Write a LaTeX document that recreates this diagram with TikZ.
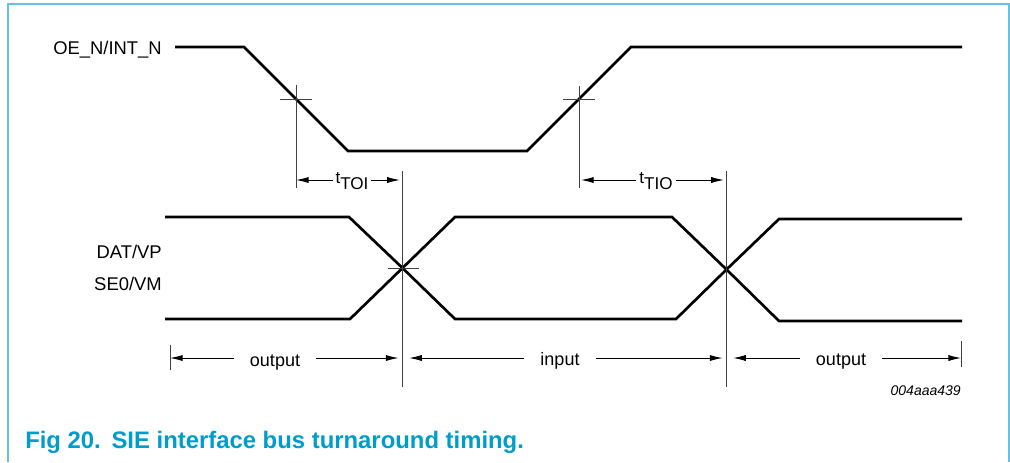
\documentclass[tikz,border=0pt]{standalone}
\usepackage{fontspec}
\setmainfont{Liberation Sans}
\usetikzlibrary{arrows.meta}
\definecolor{capblue}{RGB}{0,157,204}
\definecolor{framecyan}{RGB}{100,195,225}

\begin{document}
\begin{tikzpicture}
  [x=0.75pt,y=-0.75pt,
  wave/.style={line width=2pt},
  guide/.style={line width=0.7pt,black!75},
  dimline/.style={line width=0.7pt,-{Latex[length=9.5pt,width=4.6pt]}},
  sig/.style={font=\fontsize{13.8}{16}\selectfont,inner sep=0pt,anchor=base east},
  dimtext/.style={font=\fontsize{13.5}{16}\selectfont,inner xsep=12pt,inner ysep=0pt,anchor=base},
  ttext/.style={font=\fontsize{12.8}{15}\selectfont,inner xsep=2pt,inner ysep=0pt,anchor=base}]
  \useasboundingbox (0,0) rectangle (1010,462);
  \draw[framecyan,line width=1.5pt] (8,462) -- (8,4) -- (1008.5,4) -- (1008.5,462);

  % signal names
  \node[sig] (oe) at (162,54) {OE\_N/INT\_N};
  \node[sig] (dat) at (162,258) {DAT/VP};
  \node[sig] (se0) at (162,290) {SE0/VM};

  % waveforms
  \coordinate (x1) at (402.5,268);
  \coordinate (x2) at (726.5,269.5);
  \draw[wave] (175,47) -- (244,47) -- (348,151) -- (527,151) -- (631,47) -- (962,47);
  \draw[wave] (165,217) -- (349,217) -- (x1) -- (455,319) -- (676,319) -- (x2) -- (779,219) -- (962,219);
  \draw[wave] (165,319) -- (350,319) -- (x1) -- (455,217) -- (672,217) -- (x2) -- (779,321) -- (962,321);

  % reference lines
  \coordinate (g1) at (296,180);
  \coordinate (g2) at (402.5,180);
  \coordinate (g3) at (579,180);
  \coordinate (g4) at (726.5,180);
  \draw[guide] (296,85) -- (296,188) (280,99) -- (312,99);
  \draw[guide] (579,86) -- (579,188) (563,99) -- (595,99);
  \draw[guide] (402.5,171) -- (402.5,387) (388,268) -- (419,268);
  \draw[guide] (726.5,171) -- (726.5,387);

  % turnaround times
  \node[ttext] (toi) at (352,183) {t\raisebox{-5.2pt}{TOI}};
  \node[ttext] (tio) at (656,183) {t\raisebox{-5.2pt}{TIO}};
  \draw[dimline] (toi.west |- g1) -- (g1);
  \draw[dimline,shorten >=2pt] (toi.east |- g2) -- (g2);
  \draw[dimline,shorten >=1.5pt] (tio.west |- g3) -- (g3);
  \draw[dimline,shorten >=2pt] (tio.east |- g4) -- (g4);

  % bus direction
  \coordinate (b0) at (170,358);
  \coordinate (b1) at (402.5,358);
  \coordinate (b2) at (726.5,358);
  \coordinate (b3) at (961,358);
  \draw[guide] (170,345) -- (170,370) (961,341) -- (961,367);
  \node[dimtext] (out1) at (275,366) {output};
  \node[dimtext] (inp) at (560,365) {input};
  \node[dimtext] (out2) at (841,365) {output};
  \draw[dimline] (out1.west |- b0) -- (b0);
  \draw[dimline,shorten >=3pt] (out1.east |- b1) -- (b1);
  \draw[dimline,shorten >=5pt] (inp.west |- b1) -- (b1);
  \draw[dimline,shorten >=3pt] (inp.east |- b2) -- (b2);
  \draw[dimline,shorten >=5pt] (out2.west |- b2) -- (b2);
  \draw[dimline] (out2.east |- b3) -- (b3);

  \node[font=\itshape\fontsize{10.5}{12}\selectfont,inner sep=0pt,anchor=base east] (code) at (961,395) {004aaa439};

  \node[font=\bfseries\fontsize{17.9}{20}\selectfont,text=capblue,inner sep=0pt,anchor=base west] (cap) at (25,448)
    {Fig 20.\hspace{8pt}SIE interface bus turnaround timing.};
\end{tikzpicture}
\end{document}
